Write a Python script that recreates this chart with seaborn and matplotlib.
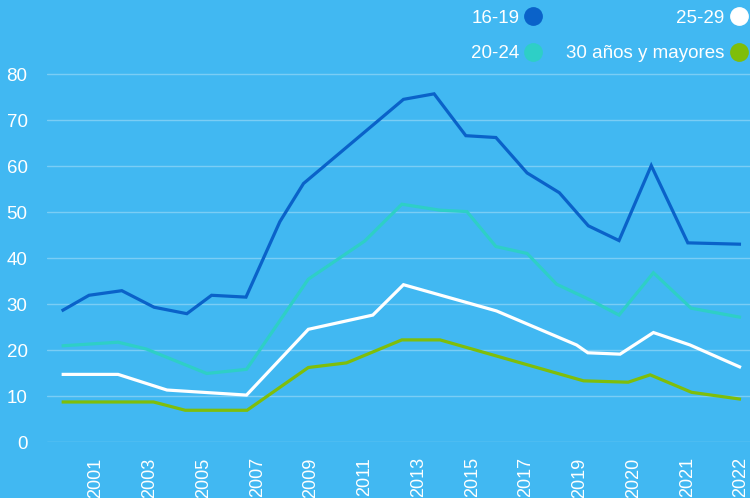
import pandas as pd
import numpy as np
import matplotlib
matplotlib.use("Agg")
import matplotlib.pyplot as plt
from matplotlib.lines import Line2D
import seaborn as sns

# posiciones en el eje (0 = etiqueta 2001, 12 = etiqueta 2022)
x_16_19 = [-0.64, -0.13, 0.48, 1.08, 1.69, 2.15, 2.79, 3.42, 3.86, 5.72, 6.29,
           6.88, 7.44, 8.02, 8.62, 9.16, 9.73, 10.33, 11.01, 12.0]
y_16_19 = [28.5, 31.9, 32.9, 29.3, 27.9, 31.9, 31.5, 47.9, 56.2, 74.5, 75.7,
           66.6, 66.2, 58.5, 54.2, 47.0, 43.8, 60.1, 43.3, 43.0]

x_20_24 = [-0.64, 0.41, 0.94, 2.06, 2.80, 3.95, 5.00, 5.69, 6.40, 6.90, 7.44,
           8.02, 8.57, 9.19, 9.73, 10.37, 11.07, 12.0]
y_20_24 = [20.9, 21.7, 20.2, 14.9, 15.8, 35.4, 43.7, 51.7, 50.4, 50.1, 42.5,
           41.0, 34.3, 30.9, 27.6, 36.8, 29.1, 27.1]

x_25_29 = [-0.64, 0.41, 1.32, 2.80, 3.95, 5.15, 5.72, 7.45, 8.94, 9.15, 9.75,
           10.37, 11.05, 12.0]
y_25_29 = [14.7, 14.7, 11.3, 10.2, 24.5, 27.6, 34.2, 28.5, 21.1, 19.4, 19.1,
           23.8, 21.1, 16.2]

x_30_mas = [-0.64, 1.07, 1.66, 2.81, 3.95, 4.66, 5.69, 6.40, 9.07, 9.90, 10.31,
            11.08, 12.0]
y_30_mas = [8.7, 8.7, 6.9, 6.9, 16.2, 17.2, 22.2, 22.2, 13.3, 13.0, 14.6,
            10.8, 9.3]

grupos = ["16-19", "20-24", "25-29", "30 años y mayores"]
colores = ["#0a62c9", "#2ecfc6", "#ffffff", "#7fbe0a"]
etiquetas_x = ["2001", "2003", "2005", "2007", "2009", "2011", "2013", "2015",
               "2017", "2019", "2020", "2021", "2022"]
ticks_y = [0, 10, 20, 30, 40, 50, 60, 70, 80]

fondo = "#41b8f2"

df = pd.concat([
    pd.DataFrame({"periodo": x_16_19, "valor": y_16_19, "grupo": grupos[0]}),
    pd.DataFrame({"periodo": x_20_24, "valor": y_20_24, "grupo": grupos[1]}),
    pd.DataFrame({"periodo": x_25_29, "valor": y_25_29, "grupo": grupos[2]}),
    pd.DataFrame({"periodo": x_30_mas, "valor": y_30_mas, "grupo": grupos[3]}),
], ignore_index=True)

sns.set_style("white", {"axes.facecolor": fondo, "figure.facecolor": fondo})
plt.rcParams["font.family"] = ["Liberation Sans", "DejaVu Sans"]

fig = plt.figure(figsize=(7.5, 4.98), dpi=100)
fig.patch.set_facecolor(fondo)
ax = fig.add_axes([47 / 750, 56 / 498, 703 / 750, 396 / 498])
ax.set_facecolor(fondo)

sns.lineplot(
    data=df, x="periodo", y="valor", hue="grupo", hue_order=grupos,
    palette=dict(zip(grupos, colores)), estimator=None, sort=False,
    linewidth=2.3, legend=False, ax=ax,
)

ax.set_xlim(-0.912, 12.167)
ax.set_ylim(0, 86.1)
ax.set_xticks(range(len(etiquetas_x)))
ax.set_xticklabels(etiquetas_x, rotation=90, color="white", fontsize=13)
ax.set_yticks(ticks_y)
ax.set_yticklabels([str(t) for t in ticks_y], color="white", fontsize=13.5)
ax.tick_params(axis="x", length=0, pad=11)
ax.tick_params(axis="y", length=0, pad=14)
ax.set_xlabel("")
ax.set_ylabel("")
ax.yaxis.grid(True, color="#7acdf5", linewidth=1.0)
ax.xaxis.grid(False)
for s in ax.spines.values():
    s.set_visible(False)
for l in ax.lines:
    l.set_solid_capstyle("butt")
    l.set_solid_joinstyle("miter")

handles = [Line2D([], [], linestyle="none", marker="o", markersize=12.5,
                  markerfacecolor=c, markeredgecolor=c) for c in colores]
leg = fig.legend(handles, grupos, ncol=2, markerfirst=False, frameon=False,
                 loc="upper right", bbox_to_anchor=(1.006, 0.996),
                 fontsize=13.5, labelcolor="white", handletextpad=0.3,
                 labelspacing=1.0, columnspacing=1.3, handlelength=0.9,
                 borderaxespad=0.0)

fig.savefig("out.png", dpi=100, facecolor=fondo)
